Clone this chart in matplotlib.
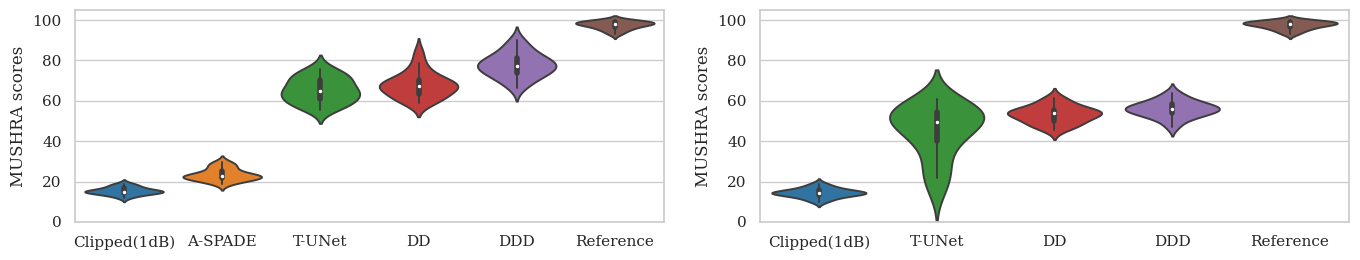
import pandas as pd
import matplotlib
matplotlib.use("Agg")
import matplotlib.pyplot as plt
import seaborn as sns

# MUSHRA listener scores
systems_a = ["Clipped(1dB)", "A-SPADE", "T-UNet", "DD", "DDD", "Reference"]
clipped_a = [12, 13, 13.5, 14, 14, 14.5, 15, 15, 15, 15, 15, 15.5, 15.5, 16, 16.5, 17, 17, 18, 18.5, 19]
aspade_a = [19, 20, 20.5, 21, 21.5, 22, 22, 22.5, 22.5, 22.5, 23, 23, 23.5, 24, 25, 26, 27, 28, 29, 29.5]
tunet_a = [55.5, 57, 58, 59, 60, 61, 62, 63, 64, 64.5, 65, 66, 67.5, 69, 70, 71, 72, 73, 74.5, 76]
dd_a = [59, 60, 61, 61.5, 62.5, 64, 65.5, 66.5, 67, 67, 67.5, 68, 68.5, 69, 70, 71, 73, 75, 78.5, 84]
ddd_a = [66.5, 69, 71, 72.5, 73, 74, 75, 76, 77, 77, 78, 78.5, 79, 80, 81, 82, 83.5, 85, 87.5, 90]
ref_a = [93, 94, 95, 95.5, 96, 96.5, 97, 97.5, 97.5, 98, 98, 98.5, 98.5, 98.5, 99, 99, 99.5, 99.5, 100, 100]

systems_b = ["Clipped(1dB)", "T-UNet", "DD", "DDD", "Reference"]
clipped_b = [10, 11, 12, 12.5, 13, 13.5, 14, 14, 14, 14.5, 14.5, 14.5, 15, 15, 15.5, 16, 16.5, 17, 18, 19]
tunet_b = [15, 21.7, 25, 30, 37, 41, 42, 45, 47, 49, 50, 51, 52, 53, 54, 55, 56, 57, 59, 61]
dd_b = [45.5, 47, 48, 49, 49.5, 50.5, 51.5, 52.5, 53, 53.5, 54, 54, 54.5, 55, 55.5, 56, 57, 58.5, 60, 61.5]
ddd_b = [47, 50, 51.5, 52.5, 53, 54, 54.5, 55, 55.5, 56, 56, 56.5, 57, 57.5, 58, 59, 59.5, 60.5, 62, 64]
ref_b = [93, 94, 95, 95.5, 96, 96.5, 97, 97.5, 97.5, 98, 98, 98.5, 98.5, 98.5, 99, 99, 99.5, 99.5, 100, 100]

colors_a = ["tab:blue", "tab:orange", "tab:green", "tab:red", "tab:purple", "tab:brown"]
colors_b = ["tab:blue", "tab:green", "tab:red", "tab:purple", "tab:brown"]


def long_form(names, groups):
    rows = []
    for name, vals in zip(names, groups):
        for v in vals:
            rows.append((name, v))
    return pd.DataFrame(rows, columns=["system", "score"])


df_a = long_form(systems_a, [clipped_a, aspade_a, tunet_a, dd_a, ddd_a, ref_a])
df_b = long_form(systems_b, [clipped_b, tunet_b, dd_b, ddd_b, ref_b])

sns.set_theme(style="whitegrid", font="serif")

fig = plt.figure(figsize=(13.6, 2.6), dpi=100)
ax1 = fig.add_axes([0.0551, 0.1462, 0.4331, 0.8154])
ax2 = fig.add_axes([0.5588, 0.1462, 0.4331, 0.8154])

for ax, df, names, cols in [(ax1, df_a, systems_a, colors_a), (ax2, df_b, systems_b, colors_b)]:
    sns.violinplot(data=df, x="system", y="score", hue="system", order=names,
                   hue_order=names, palette=cols, legend=False,
                   density_norm="width", inner="box", linewidth=1.4,
                   inner_kws=dict(box_width=4, whis_width=1.4, marker="."), ax=ax)
    ax.set_ylim(0, 105)
    ax.set_xlabel("")
    ax.set_ylabel("MUSHRA scores")
    ax.set_yticks([0, 20, 40, 60, 80, 100])

fig.savefig("out.png", dpi=100)
